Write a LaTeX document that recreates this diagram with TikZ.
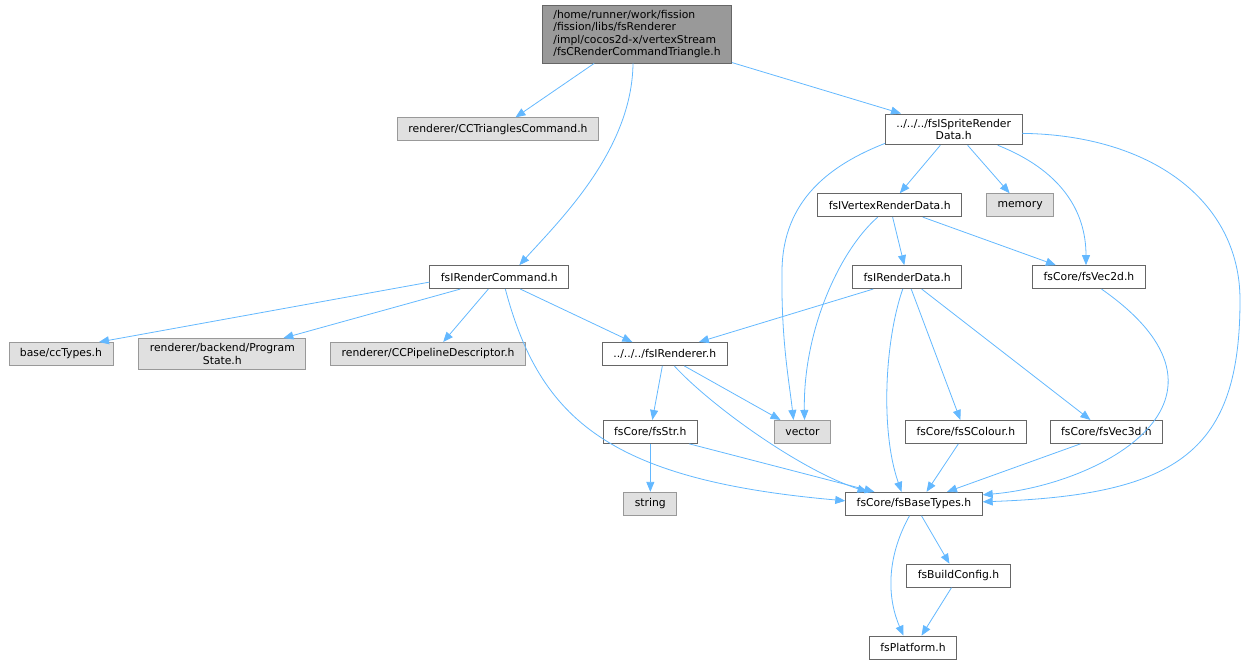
\documentclass[tikz,border=0pt]{standalone}
\usepackage{fontspec}
\setmainfont{DejaVu Sans}
\usetikzlibrary{positioning,arrows.meta}
\definecolor{edgeblue}{HTML}{63B8FF}
\definecolor{docline}{HTML}{666666}
\definecolor{extline}{HTML}{999999}
\definecolor{extfill}{HTML}{E0E0E0}
\definecolor{rootfill}{HTML}{999999}

\begin{document}
\begin{tikzpicture}[x=1pt, y=-1pt,
  hdr/.style={draw=docline, fill=white, line width=0.9pt, inner xsep=11pt, inner ysep=5pt,
    minimum height=23pt, align=center, font=\fontsize{10.8}{12.5}\selectfont},
  exthdr/.style={hdr, draw=extline, fill=extfill},
  roothdr/.style={hdr, fill=rootfill, align=left},
  dep/.style={draw=edgeblue, line width=0.8pt, -{Triangle[length=10pt,width=8pt]}}]

  \useasboundingbox (0,0) rectangle (1256,659);

  % Define nodes
  \node[roothdr] (root) at (637,34) {/home/runner/work/fission\\/fission/libs/fsRenderer\\/impl/cocos2d-x/vertexStream\\/fsCRenderCommandTriangle.h};
  \node[exthdr, below=54pt of root, xshift=-139pt] (tri) {renderer/CCTrianglesCommand.h};
  \node[hdr, right=286pt of tri] (sprite) {../../../fsISpriteRender\\Data.h};
  \node[hdr, below=48pt of sprite, xshift=-64pt] (vrd) {fsIVertexRenderData.h};
  \node[exthdr, right=24pt of vrd] (memory) {memory};
  \node[hdr, below=48pt of vrd, xshift=17.5pt] (rd) {fsIRenderData.h};
  \node[hdr, right=70pt of rd] (vec2d) {fsCore/fsVec2d.h};
  \node[hdr, left=283pt of rd] (cmd) {fsIRenderCommand.h};
  \node[hdr, below=53pt of cmd, xshift=165.5pt] (renderer) {../../../fsIRenderer.h};
  \node[exthdr, left=76pt of renderer] (pipeline) {renderer/CCPipelineDescriptor.h};
  \node[exthdr, left=24pt of pipeline] (progstate) {renderer/backend/Program\\State.h};
  \node[exthdr, left=25pt of progstate] (cctypes) {base/ccTypes.h};
  \node[hdr, below=54pt of renderer, xshift=-14.5pt] (str) {fsCore/fsStr.h};
  \node[exthdr, right=76pt of str] (vector) {vector};
  \node[hdr, right=74pt of vector] (scolour) {fsCore/fsSColour.h};
  \node[hdr, right=23pt of scolour] (vec3d) {fsCore/fsVec3d.h};
  \node[exthdr, below=48pt of str] (string) {string};
  \node[hdr, right=168pt of string] (basetypes) {fsCore/fsBaseTypes.h};
  \node[hdr, below=48pt of basetypes, xshift=44.5pt] (buildcfg) {fsBuildConfig.h};
  \node[hdr, below=48pt of buildcfg, xshift=-45.5pt] (platform) {fsPlatform.h};

  % Connect the nodes
  \draw[dep] (root) -- (tri);
  \draw[dep] ([xshift=-4pt]root.south) .. controls (632,150) and (560,220) .. ([xshift=20pt]cmd.north);
  \draw[dep] (root) -- (sprite);

  \draw[dep] ([yshift=-14pt]sprite.west) .. controls (830,165) and (783,200) .. (782,270)
    .. controls (781,340) and (789,380) .. ([xshift=-9pt]vector.north);
  \draw[dep] (sprite) -- (vrd);
  \draw[dep] (sprite) -- (memory);
  \draw[dep] ([xshift=44pt]sprite.south) .. controls (1060,170) and (1086,210) .. ([xshift=-3pt]vec2d.north);
  \draw[dep] ([yshift=-4pt]sprite.east) .. controls (1150,135) and (1240,200) .. (1240,300)
    .. controls (1240,450) and (1180,495) .. ([yshift=2pt]basetypes.east);

  \draw[dep] ([xshift=-12pt]vrd.south) .. controls (840,250) and (803,330) .. ([xshift=2pt]vector.north);
  \draw[dep] (vrd) -- (rd);
  \draw[dep] (vrd) -- (vec2d);

  \draw[dep] ([yshift=-5pt]cmd.west) -- ([xshift=38pt]cctypes.north);
  \draw[dep] ([xshift=-39pt]cmd.south) -- ([xshift=61pt]progstate.north);
  \draw[dep] ([xshift=-11pt]cmd.south) -- ([xshift=15pt]pipeline.north);
  \draw[dep] ([xshift=21pt]cmd.south) -- ([xshift=-32.5pt]renderer.north);
  \draw[dep] ([xshift=6pt]cmd.south) .. controls (540,420) and (610,480) .. ([yshift=3pt]basetypes.west);

  \draw[dep] ([xshift=-34pt]rd.south) -- ([xshift=34pt]renderer.north);
  \draw[dep] ([xshift=-4.5pt]rd.south) .. controls (885,340) and (880,430) .. ([xshift=-12.5pt]basetypes.north);
  \draw[dep] ([xshift=4pt]rd.south) -- ([xshift=-5.5pt]scolour.north);
  \draw[dep] ([xshift=14.5pt]rd.south) -- ([xshift=-16pt]vec3d.north);

  \draw[dep] ([xshift=12.5pt]vec2d.south) .. controls (1260,400) and (1100,485) .. ([yshift=9pt]basetypes.east);

  \draw[dep] ([xshift=-2.5pt]renderer.south) -- ([xshift=2pt]str.north);
  \draw[dep] ([xshift=19.5pt]renderer.south) -- ([xshift=-22pt]vector.north);
  \draw[dep] ([xshift=9.5pt]renderer.south) .. controls (710,405) and (800,470) .. ([xshift=-46.5pt]basetypes.north);

  \draw[dep] (str) -- (string);
  \draw[dep] ([xshift=39pt]str.south) -- ([xshift=-39.5pt]basetypes.north);
  \draw[dep] ([xshift=-7.5pt]scolour.south) -- ([xshift=12.5pt]basetypes.north);
  \draw[dep] ([xshift=-26pt]vec3d.south) -- ([xshift=33pt]basetypes.north);

  \draw[dep] ([xshift=7.5pt]basetypes.south) -- ([xshift=-9pt]buildcfg.north);
  \draw[dep] ([xshift=-4.5pt]basetypes.south) .. controls (885,560) and (888,600) .. ([xshift=-9.5pt]platform.north);
  \draw[dep] ([xshift=-7pt]buildcfg.south) -- ([xshift=8.5pt]platform.north);

\end{tikzpicture}
\end{document}
